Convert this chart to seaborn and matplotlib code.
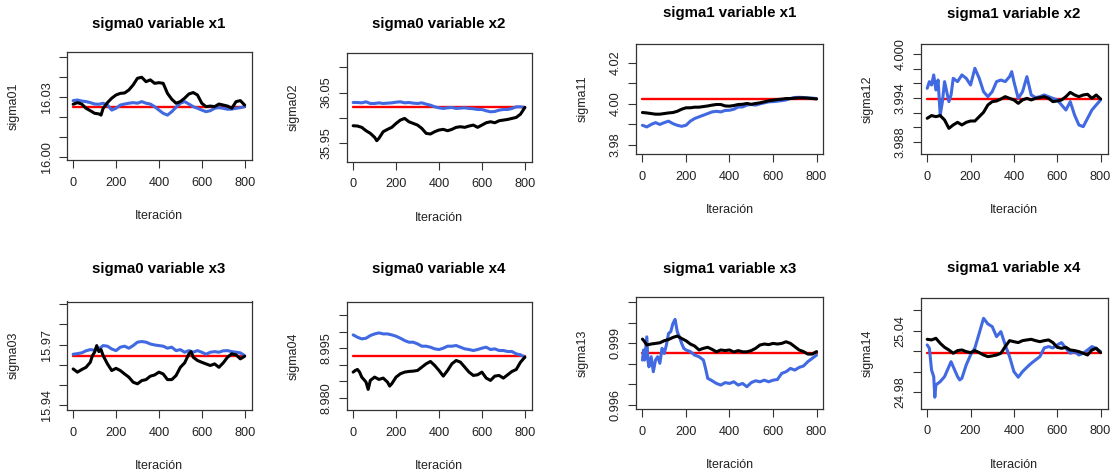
import matplotlib
matplotlib.use("Agg")
import matplotlib.pyplot as plt
import seaborn as sns
import pandas as pd

# ---------------- data (iteration, value) ----------------
P1_BLACK = [(0,16.0264),(20,16.0272),(40,16.0265),(60,16.0244),(80,16.0232),(100,16.0219),(120,16.0216),(130,16.0210),
            (140,16.0244),(160,16.0272),(180,16.0294),(200,16.0310),(220,16.0318),(240,16.0320),(260,16.0335),(280,16.0360),
            (300,16.0393),(320,16.0398),(340,16.0376),(360,16.0385),(380,16.0368),(400,16.0371),(420,16.0368),(440,16.0318),
            (460,16.0289),(480,16.0269),(500,16.0277),(520,16.0294),(540,16.0315),(560,16.0322),(580,16.0310),(600,16.0269),
            (620,16.0252),(640,16.0255),(660,16.0252),(680,16.0265),(700,16.0260),(720,16.0255),(740,16.0244),(760,16.0277),
            (780,16.0282),(800,16.0260)]
P1_BLUE = [(0,16.0282),(20,16.0285),(40,16.0280),(60,16.0277),(80,16.0272),(100,16.0265),(120,16.0264),(140,16.0269),
           (160,16.0260),(180,16.0235),(200,16.0244),(220,16.0260),(240,16.0265),(260,16.0269),(280,16.0272),(300,16.0269),
           (320,16.0277),(340,16.0269),(360,16.0265),(380,16.0252),(400,16.0235),(420,16.0219),(440,16.0210),(460,16.0227),
           (480,16.0249),(500,16.0269),(520,16.0277),(540,16.0265),(560,16.0252),(580,16.0244),(600,16.0235),(620,16.0227),
           (640,16.0232),(660,16.0244),(680,16.0247),(700,16.0244),(720,16.0239),(740,16.0240),(760,16.0244),(780,16.0247),
           (800,16.0252)]
P1_RED = 16.025

P2_BLACK = [(0,35.9842),(20,35.9836),(40,35.9810),(60,35.9743),(80,35.9691),(100,35.9612),(110,35.9546),(120,35.9592),
            (140,35.9724),(160,35.9770),(180,35.9810),(200,35.9888),(220,35.9954),(240,35.9987),(260,35.9921),(280,35.9888),
            (300,35.9855),(320,35.9789),(340,35.9691),(360,35.9678),(380,35.9724),(400,35.9757),(420,35.9770),(440,35.9743),
            (460,35.9770),(480,35.9810),(500,35.9822),(520,35.9810),(540,35.9836),(560,35.9855),(580,35.9810),(600,35.9855),
            (620,35.9901),(640,35.9921),(660,35.9901),(680,35.9941),(700,35.9954),(720,35.9967),(740,35.9987),(760,36.0007),
            (780,36.0072),(800,36.0204)]
P2_BLUE = [(0,36.0303),(20,36.0303),(40,36.0296),(60,36.0316),(80,36.0283),(100,36.0283),(120,36.0296),(140,36.0283),
           (160,36.0290),(180,36.0296),(200,36.0309),(220,36.0316),(240,36.0296),(260,36.0303),(280,36.0290),(300,36.0283),
           (320,36.0296),(340,36.0270),(360,36.0250),(380,36.0217),(400,36.0197),(420,36.0184),(440,36.0197),(460,36.0204),
           (480,36.0184),(500,36.0191),(520,36.0197),(540,36.0184),(560,36.0178),(580,36.0164),(600,36.0164),(620,36.0138),
           (640,36.0118),(660,36.0125),(680,36.0151),(700,36.0164),(720,36.0164),(740,36.0184),(760,36.0217),(780,36.0217),
           (800,36.0204)]
P2_RED = 36.022

P3_BLACK = [(0,3.9958),(20,3.9956),(40,3.9953),(60,3.9950),(80,3.9950),(100,3.9953),(120,3.9956),(140,3.9958),
            (160,3.9964),(180,3.9974),(200,3.9981),(220,3.9981),(240,3.9984),(260,3.9984),(280,3.9987),(300,3.9990),
            (320,3.9994),(340,3.9997),(360,3.9997),(380,3.9990),(400,3.9989),(420,3.9992),(440,3.9997),(460,3.9998),
            (480,4.0002),(500,3.9998),(520,4.0002),(540,4.0005),(560,4.0010),(580,4.0015),(600,4.0018),(620,4.0021),
            (640,4.0023),(660,4.0026),(680,4.0026),(700,4.0028),(720,4.0029),(740,4.0029),(760,4.0028),(780,4.0026),
            (800,4.0024)]
P3_BLUE = [(0,3.9896),(20,3.9888),(40,3.9900),(60,3.9909),(80,3.9900),(100,3.9909),(120,3.9916),(140,3.9904),
           (160,3.9896),(180,3.9891),(200,3.9896),(220,3.9916),(240,3.9929),(260,3.9937),(280,3.9945),(300,3.9953),
           (320,3.9961),(340,3.9964),(360,3.9961),(380,3.9968),(400,3.9969),(420,3.9974),(440,3.9985),(460,3.9985),
           (480,3.9994),(500,3.9997),(520,3.9994),(540,4.0000),(560,4.0005),(580,4.0010),(600,4.0011),(620,4.0013),
           (640,4.0016),(660,4.0019),(680,4.0026),(700,4.0031),(720,4.0032),(740,4.0031),(760,4.0029),(780,4.0028),
           (800,4.0026)]
P3_RED = 4.0024

P4_BLACK = [(0,3.99123),(20,3.99160),(40,3.99145),(60,3.99160),(80,3.99100),(100,3.98986),(120,3.99032),(140,3.99068),
            (160,3.99032),(180,3.99068),(200,3.99086),(220,3.99086),(240,3.99145),(260,3.99205),(280,3.99305),(300,3.99350),
            (320,3.99359),(340,3.99386),(360,3.99418),(380,3.99395),(400,3.99373),(420,3.99327),(440,3.99373),(460,3.99395),
            (480,3.99373),(500,3.99395),(520,3.99405),(540,3.99418),(560,3.99395),(580,3.99350),(600,3.99359),(620,3.99373),
            (640,3.99418),(660,3.99477),(680,3.99441),(700,3.99418),(720,3.99441),(740,3.99450),(760,3.99395),(780,3.99441),
            (800,3.99386)]
P4_BLUE = [(0,3.99532),(10,3.99623),(20,3.99577),(30,3.99714),(40,3.99509),(50,3.99645),(60,3.99168),(70,3.99350),
           (80,3.99623),(100,3.99350),(110,3.99441),(120,3.99668),(140,3.99623),(160,3.99714),(180,3.99668),(200,3.99577),
           (220,3.99805),(240,3.99668),(260,3.99486),(280,3.99418),(300,3.99486),(320,3.99623),(340,3.99645),(360,3.99623),
           (380,3.99691),(390,3.99759),(400,3.99623),(420,3.99395),(440,3.99486),(460,3.99691),(480,3.99441),(500,3.99405),
           (520,3.99418),(540,3.99441),(560,3.99418),(580,3.99395),(600,3.99373),(620,3.99305),(640,3.99236),(660,3.99350),
           (680,3.99168),(700,3.99032),(720,3.99009),(740,3.99123),(760,3.99236),(780,3.99305),(800,3.99373)]
P4_RED = 3.9939

P5_BLACK = [(0,15.9579),(20,15.9563),(40,15.9576),(60,15.9587),(80,15.9612),(90,15.9645),(100,15.9662),(110,15.9695),
            (120,15.9665),(130,15.9675),(140,15.9645),(160,15.9604),(180,15.9571),(200,15.9582),(220,15.9571),(240,15.9554),
            (260,15.9538),(280,15.9513),(300,15.9505),(320,15.9521),(340,15.9526),(360,15.9543),(380,15.9549),(400,15.9563),
            (420,15.9554),(440,15.9526),(460,15.9526),(480,15.9546),(500,15.9587),(520,15.9609),(540,15.9654),(550,15.9665),
            (560,15.9637),(580,15.9621),(600,15.9612),(620,15.9604),(640,15.9596),(660,15.9604),(680,15.9587),(700,15.9609),
            (720,15.9637),(740,15.9654),(760,15.9649),(780,15.9629),(800,15.9642)]
P5_BLUE = [(0,15.9652),(20,15.9655),(40,15.9659),(60,15.9669),(80,15.9675),(100,15.9672),(120,15.9678),(140,15.9695),
           (160,15.9692),(180,15.9678),(200,15.9670),(220,15.9687),(240,15.9692),(260,15.9682),(280,15.9695),(300,15.9712),
           (320,15.9715),(340,15.9712),(360,15.9703),(380,15.9698),(400,15.9695),(420,15.9692),(440,15.9682),(460,15.9687),
           (480,15.9670),(500,15.9675),(520,15.9662),(540,15.9670),(560,15.9662),(580,15.9670),(600,15.9662),(620,15.9652),
           (640,15.9662),(660,15.9665),(680,15.9662),(700,15.9669),(720,15.9670),(740,15.9665),(760,15.9662),(780,15.9659),
           (800,15.9645)]
P5_RED = 15.9642

P6_BLACK = [(0,8.9878),(10,8.9883),(20,8.9886),(30,8.9878),(40,8.9863),(60,8.9848),(70,8.9826),(80,8.9853),
            (100,8.9863),(120,8.9856),(140,8.9860),(160,8.9848),(170,8.9836),(180,8.9843),(200,8.9863),(220,8.9873),
            (240,8.9878),(260,8.9880),(280,8.9881),(300,8.9883),(320,8.9893),(340,8.9903),(360,8.9910),(380,8.9898),
            (400,8.9883),(420,8.9866),(440,8.9883),(460,8.9903),(480,8.9913),(500,8.9908),(520,8.9893),(540,8.9878),
            (560,8.9868),(580,8.9870),(600,8.9878),(620,8.9860),(640,8.9853),(660,8.9866),(680,8.9868),(700,8.9860),
            (720,8.9870),(740,8.9880),(760,8.9886),(780,8.9908),(800,8.9923)]
P6_BLUE = [(0,8.9990),(20,8.9983),(40,8.9978),(60,8.9980),(80,8.9988),(100,8.9993),(120,8.9996),(140,8.9993),
           (160,8.9993),(180,8.9990),(200,8.9986),(220,8.9980),(240,8.9973),(260,8.9968),(280,8.9968),(300,8.9963),
           (320,8.9956),(340,8.9956),(360,8.9953),(380,8.9948),(400,8.9946),(420,8.9950),(440,8.9956),(460,8.9956),
           (480,8.9958),(500,8.9953),(520,8.9948),(540,8.9946),(560,8.9943),(580,8.9946),(600,8.9950),(620,8.9953),
           (640,8.9946),(660,8.9948),(680,8.9943),(700,8.9943),(720,8.9940),(740,8.9940),(760,8.9933),(780,8.9930),
           (800,8.9923)]
P6_RED = 8.9926

P7_BLACK = [(0,0.99921),(10,0.99908),(20,0.99892),(40,0.99897),(60,0.99900),(80,0.99903),(100,0.99913),(120,0.99919),
            (140,0.99929),(160,0.99936),(180,0.99924),(200,0.99913),(220,0.99897),(240,0.99887),(260,0.99868),(280,0.99876),
            (300,0.99881),(320,0.99871),(340,0.99859),(360,0.99868),(380,0.99865),(400,0.99868),(420,0.99858),(440,0.99865),
            (460,0.99859),(480,0.99859),(500,0.99865),(520,0.99876),(540,0.99892),(560,0.99897),(580,0.99894),(600,0.99900),
            (620,0.99897),(640,0.99900),(660,0.99908),(680,0.99900),(700,0.99884),(720,0.99868),(740,0.99860),(760,0.99848),
            (780,0.99848),(800,0.99860)]
P7_BLUE = [(0,0.99819),(5,0.99868),(10,0.99819),(20,0.99932),(25,0.99819),(30,0.99786),(40,0.99835),(50,0.99762),
           (60,0.99819),(70,0.99835),(80,0.99803),(90,0.99876),(100,0.99851),(110,0.99892),(120,0.99949),(130,0.99957),
           (140,0.99997),(150,1.00017),(160,0.99957),(170,0.99932),(180,0.99900),(190,0.99876),(200,0.99868),(220,0.99860),
           (240,0.99843),(260,0.99835),(280,0.99819),(290,0.99778),(300,0.99730),(320,0.99718),(340,0.99705),(360,0.99697),
           (380,0.99709),(400,0.99705),(420,0.99713),(440,0.99697),(460,0.99705),(480,0.99689),(500,0.99709),(520,0.99718),
           (540,0.99713),(560,0.99721),(580,0.99713),(600,0.99721),(620,0.99724),(640,0.99754),(660,0.99762),(680,0.99778),
           (700,0.99770),(720,0.99783),(740,0.99790),(760,0.99811),(780,0.99827),(800,0.99843)]
P7_RED = 0.99851

P8_BLACK = [(0,25.0317),(20,25.0311),(40,25.0327),(60,25.0278),(80,25.0239),(100,25.0213),(120,25.0181),(140,25.0207),
            (160,25.0213),(180,25.0197),(200,25.0187),(220,25.0207),(240,25.0187),(260,25.0164),(280,25.0148),(300,25.0155),
            (320,25.0164),(340,25.0181),(360,25.0246),(380,25.0304),(400,25.0294),(420,25.0285),(440,25.0304),(460,25.0311),
            (480,25.0317),(500,25.0304),(520,25.0294),(540,25.0304),(560,25.0311),(580,25.0285),(600,25.0239),(620,25.0229),
            (640,25.0239),(660,25.0213),(680,25.0207),(700,25.0197),(720,25.0181),(740,25.0164),(760,25.0213),(780,25.0229),
            (800,25.0187)]
P8_BLUE = [(0,25.0262),(10,25.0229),(20,25.0018),(30,24.9953),(35,24.9752),(40,24.9872),(60,24.9904),(80,24.9953),
           (100,25.0050),(110,25.0099),(120,25.0050),(140,24.9953),(150,24.9921),(160,24.9937),(180,25.0067),(200,25.0164),
           (220,25.0233),(240,25.0376),(260,25.0522),(280,25.0467),(300,25.0441),(320,25.0343),(340,25.0392),(360,25.0262),
           (380,25.0148),(400,25.0002),(420,24.9947),(440,25.0002),(460,25.0044),(480,25.0083),(500,25.0116),(520,25.0148),
           (540,25.0233),(560,25.0246),(580,25.0233),(600,25.0262),(620,25.0285),(640,25.0229),(660,25.0181),(680,25.0197),
           (700,25.0164),(720,25.0181),(740,25.0213),(760,25.0246),(780,25.0229),(800,25.0197)]
P8_RED = 25.018

TITLES = ["sigma0 variable x1", "sigma0 variable x2", "sigma1 variable x1", "sigma1 variable x2",
          "sigma0 variable x3", "sigma0 variable x4", "sigma1 variable x3", "sigma1 variable x4"]
YLABELS = ["sigma01", "sigma02", "sigma11", "sigma12", "sigma03", "sigma04", "sigma13", "sigma14"]
XLABEL = "Iteración"
X_TICKS = [0, 200, 400, 600, 800]
Y_TICKS = [
    [16.00, 16.01, 16.02, 16.03, 16.04, 16.05],
    [35.95, 36.00, 36.05, 36.10],
    [3.98, 3.99, 4.00, 4.01, 4.02],
    [3.988, 3.990, 3.992, 3.994, 3.996, 3.998, 4.000],
    [15.94, 15.95, 15.96, 15.97, 15.98, 15.99],
    [8.980, 8.985, 8.990, 8.995, 9.000, 9.005],
    [0.996, 0.997, 0.998, 0.999, 1.000, 1.001],
    [24.98, 25.00, 25.02, 25.04, 25.06],
]
Y_TICKLABELS = [
    ["16.00", "", "", "16.03", "", ""],
    ["35.95", "", "36.05", ""],
    ["3.98", "", "4.00", "", "4.02"],
    ["3.988", "", "", "3.994", "", "", "4.000"],
    ["15.94", "", "", "15.97", "", ""],
    ["8.980", "", "", "8.995", "", ""],
    ["0.996", "", "", "0.999", "", ""],
    ["24.98", "", "", "25.04", ""],
]
BLACKS = [P1_BLACK, P2_BLACK, P3_BLACK, P4_BLACK, P5_BLACK, P6_BLACK, P7_BLACK, P8_BLACK]
BLUES = [P1_BLUE, P2_BLUE, P3_BLUE, P4_BLUE, P5_BLUE, P6_BLUE, P7_BLUE, P8_BLUE]
REDS = [P1_RED, P2_RED, P3_RED, P4_RED, P5_RED, P6_RED, P7_RED, P8_RED]

# ---------------- layout (pixels) ----------------
W, H = 1119, 476
BOXES = [(66.5, 52.3, 251.5, 160.0), (346.5, 53.0, 531.7, 161.7),
         (635.7, 44.0, 823.5, 154.3), (920.5, 44.0, 1107.5, 154.3),
         (66.5, 301.5, 251.5, 410.0), (346.5, 302.0, 531.7, 410.0),
         (635.7, 297.0, 823.5, 409.3), (920.5, 297.7, 1107.5, 408.7)]
YLIMS = [(15.9987, 16.0522), (35.9129, 36.1284), (3.9755, 4.0291), (3.98632, 4.00136),
         (15.9375, 15.9914), (8.9764, 9.0089), (0.99579, 1.00126), (24.964, 25.0723)]
TITLE_Y = [24, 24, 13.5, 14, 269, 269, 269, 268]

sns.set_style("white")
plt.rcParams["font.family"] = ["Liberation Sans", "DejaVu Sans"]

fig = plt.figure(figsize=(W / 100, H / 100), dpi=100)
fig.patch.set_facecolor("white")

EDGE = "#333333"
for k in range(8):
    x0, y0, x1, y1 = BOXES[k]
    wpx, hpx = x1 - x0, y1 - y0
    ax = fig.add_axes([x0 / W, 1 - y1 / H, wpx / W, hpx / H])
    ax.set_facecolor("white")

    red_df = pd.DataFrame({"it": [0, 800], "v": [REDS[k], REDS[k]]})
    blue_df = pd.DataFrame(BLUES[k], columns=["it", "v"])
    black_df = pd.DataFrame(BLACKS[k], columns=["it", "v"])
    sns.lineplot(data=red_df, x="it", y="v", color="#ff0000", linewidth=1.7, ax=ax, estimator=None, sort=False)
    sns.lineplot(data=blue_df, x="it", y="v", color="#4169e1", linewidth=2.2, ax=ax, estimator=None, sort=False)
    sns.lineplot(data=black_df, x="it", y="v", color="black", linewidth=2.2, ax=ax, estimator=None, sort=False)

    ax.set_xlim(-31, 832)
    ax.set_ylim(*YLIMS[k])
    ax.set_xticks(X_TICKS)
    ax.set_xticklabels([str(t) for t in X_TICKS])
    ax.set_yticks(Y_TICKS[k])
    ax.set_yticklabels(Y_TICKLABELS[k])
    ax.tick_params(axis="both", direction="out", length=6, width=0.8, color=EDGE,
                   labelsize=9.2, labelcolor="#222222")
    ax.tick_params(axis="x", pad=6, bottom=True)
    ax.tick_params(axis="y", pad=4, left=True)
    for lab in ax.get_yticklabels():
        lab.set_rotation(90)
        lab.set_va("center")
        lab.set_ha("right")
    for sp in ax.spines.values():
        sp.set_visible(True)
        sp.set_color(EDGE)
        sp.set_linewidth(0.9)

    ax.set_xlabel(XLABEL, fontsize=9.0, color="#222222")
    ax.xaxis.label.set_va("center")
    ax.xaxis.set_label_coords(0.5, -56.0 / hpx)
    ax.set_ylabel(YLABELS[k], fontsize=9.0, color="#222222")
    ax.yaxis.label.set_va("center")
    ax.yaxis.set_label_coords(-53.0 / wpx, 0.5)

    fig.text((x0 + x1) / 2 / W, 1 - TITLE_Y[k] / H, TITLES[k], ha="center", va="center",
             fontsize=10.8, fontweight="bold", color="black")

fig.savefig("out.png", dpi=100, facecolor="white")
